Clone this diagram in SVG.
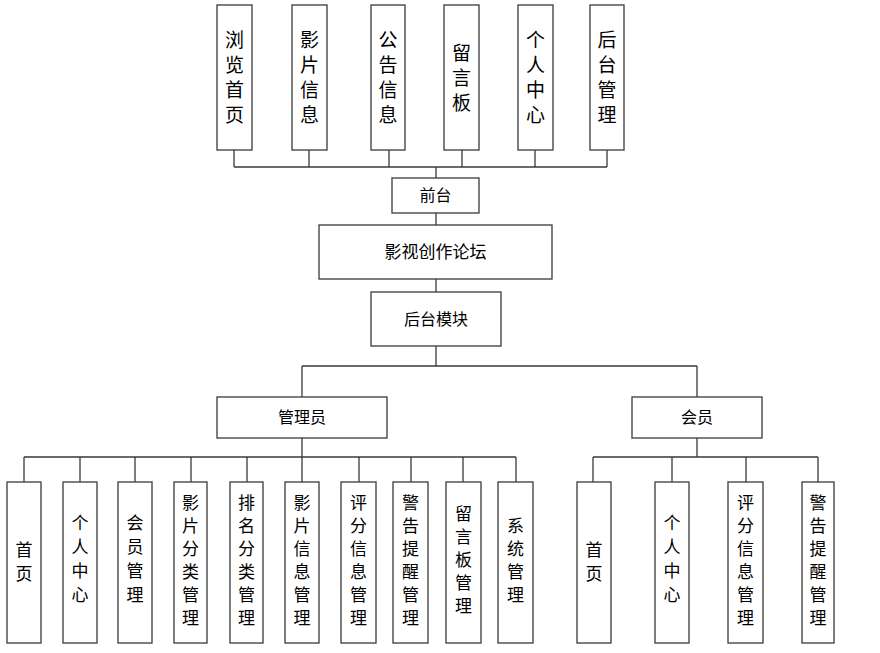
<svg xmlns="http://www.w3.org/2000/svg" width="880" height="653" viewBox="0 0 880 653">
<style>
.b{fill:#fff;stroke:#3a3a3a;stroke-width:1.3}
.c{fill:none;stroke:#3a3a3a;stroke-width:1.3}
text{font-family:"Noto Sans CJK SC","Noto Sans",sans-serif;fill:#000;text-anchor:middle}
.t{font-size:19px}
.m{font-size:16px}
.s{font-size:17px}
</style>
<rect width="880" height="653" fill="#fff"/>
<g id="connectors">
<path class="c" d="M234,150V167M309,150V167M389,150V167M462,150V167M535,150V167M607,150V167M234,167H607M436,167V178"/>
<path class="c" d="M436,213V225M436,279V292M436,346V366M302,366H697M302,366V397M697,366V397"/>
<path class="c" d="M302,438V457M24,457H516M24,457V482M80,457V482M135,457V482M191,457V482M247,457V482M302,457V482M359,457V482M411,457V482M463,457V482M516,457V482"/>
<path class="c" d="M697,438V457M593,457H818M593,457V482M672,457V482M746,457V482M818,457V482"/>
</g>
<g id="n-liulan"><rect class="b" x="217" y="5" width="35" height="145"/><text class="t" x="234.5"><tspan x="234.5" y="47">浏</tspan><tspan x="234.5" y="72">览</tspan><tspan x="234.5" y="97">首</tspan><tspan x="234.5" y="122">页</tspan></text></g>
<g id="n-yingpian"><rect class="b" x="292" y="5" width="35" height="145"/><text class="t"><tspan x="309.5" y="47">影</tspan><tspan x="309.5" y="72">片</tspan><tspan x="309.5" y="97">信</tspan><tspan x="309.5" y="122">息</tspan></text></g>
<g id="n-gonggao"><rect class="b" x="371" y="5" width="34" height="145"/><text class="t"><tspan x="388" y="47">公</tspan><tspan x="388" y="72">告</tspan><tspan x="388" y="97">信</tspan><tspan x="388" y="122">息</tspan></text></g>
<g id="n-liuyan"><rect class="b" x="444" y="5" width="35" height="145"/><text class="t"><tspan x="461.5" y="60">留</tspan><tspan x="461.5" y="85">言</tspan><tspan x="461.5" y="110">板</tspan></text></g>
<g id="n-geren"><rect class="b" x="518" y="5" width="35" height="145"/><text class="t"><tspan x="535.5" y="47">个</tspan><tspan x="535.5" y="72">人</tspan><tspan x="535.5" y="97">中</tspan><tspan x="535.5" y="122">心</tspan></text></g>
<g id="n-houtaiguanli"><rect class="b" x="590" y="5" width="34" height="145"/><text class="t"><tspan x="607" y="47">后</tspan><tspan x="607" y="72">台</tspan><tspan x="607" y="97">管</tspan><tspan x="607" y="122">理</tspan></text></g>
<g id="n-qiantai"><rect class="b" x="392" y="178" width="87" height="35"/><text class="m" x="435.5" y="201">前台</text></g>
<g id="n-luntan"><rect class="b" x="319" y="225" width="233" height="54"/><text class="s" x="435.5" y="258">影视创作论坛</text></g>
<g id="n-houtai"><rect class="b" x="371" y="292" width="130" height="54"/><text class="m" x="436" y="325">后台模块</text></g>
<g id="n-admin"><rect class="b" x="217" y="397" width="170" height="41"/><text class="m" x="302" y="423">管理员</text></g>
<g id="n-member"><rect class="b" x="632" y="397" width="130" height="41"/><text class="m" x="697" y="423">会员</text></g>
<g id="a-shouye"><rect class="b" x="7" y="482" width="34" height="161"/><text class="s"><tspan x="24" y="556">首</tspan><tspan x="24" y="580">页</tspan></text></g>
<g id="a-geren"><rect class="b" x="63" y="482" width="34" height="161"/><text class="s"><tspan x="80" y="529">个</tspan><tspan x="80" y="553">人</tspan><tspan x="80" y="577">中</tspan><tspan x="80" y="601">心</tspan></text></g>
<g id="a-huiyuan"><rect class="b" x="118" y="482" width="34" height="161"/><text class="s"><tspan x="135" y="529">会</tspan><tspan x="135" y="553">员</tspan><tspan x="135" y="577">管</tspan><tspan x="135" y="601">理</tspan></text></g>
<g id="a-ypfl"><rect class="b" x="174" y="482" width="33" height="161"/><text class="s"><tspan x="190.5" y="509">影</tspan><tspan x="190.5" y="532">片</tspan><tspan x="190.5" y="555">分</tspan><tspan x="190.5" y="578">类</tspan><tspan x="190.5" y="601">管</tspan><tspan x="190.5" y="624">理</tspan></text></g>
<g id="a-pmfl"><rect class="b" x="230" y="482" width="33" height="161"/><text class="s"><tspan x="246.5" y="509">排</tspan><tspan x="246.5" y="532">名</tspan><tspan x="246.5" y="555">分</tspan><tspan x="246.5" y="578">类</tspan><tspan x="246.5" y="601">管</tspan><tspan x="246.5" y="624">理</tspan></text></g>
<g id="a-ypxx"><rect class="b" x="285" y="482" width="34" height="161"/><text class="s"><tspan x="302" y="509">影</tspan><tspan x="302" y="532">片</tspan><tspan x="302" y="555">信</tspan><tspan x="302" y="578">息</tspan><tspan x="302" y="601">管</tspan><tspan x="302" y="624">理</tspan></text></g>
<g id="a-pfxx"><rect class="b" x="341" y="482" width="35" height="161"/><text class="s"><tspan x="358.5" y="509">评</tspan><tspan x="358.5" y="532">分</tspan><tspan x="358.5" y="555">信</tspan><tspan x="358.5" y="578">息</tspan><tspan x="358.5" y="601">管</tspan><tspan x="358.5" y="624">理</tspan></text></g>
<g id="a-jgtx"><rect class="b" x="393" y="482" width="35" height="161"/><text class="s"><tspan x="410.5" y="509">警</tspan><tspan x="410.5" y="532">告</tspan><tspan x="410.5" y="555">提</tspan><tspan x="410.5" y="578">醒</tspan><tspan x="410.5" y="601">管</tspan><tspan x="410.5" y="624">理</tspan></text></g>
<g id="a-lyb"><rect class="b" x="446" y="482" width="35" height="161"/><text class="s"><tspan x="463.5" y="520">留</tspan><tspan x="463.5" y="543">言</tspan><tspan x="463.5" y="566">板</tspan><tspan x="463.5" y="589">管</tspan><tspan x="463.5" y="612">理</tspan></text></g>
<g id="a-xtgl"><rect class="b" x="498" y="482" width="35" height="161"/><text class="s"><tspan x="515.5" y="532">系</tspan><tspan x="515.5" y="555">统</tspan><tspan x="515.5" y="578">管</tspan><tspan x="515.5" y="601">理</tspan></text></g>
<g id="m-shouye"><rect class="b" x="577" y="482" width="34" height="161"/><text class="s"><tspan x="594" y="556">首</tspan><tspan x="594" y="580">页</tspan></text></g>
<g id="m-geren"><rect class="b" x="655" y="482" width="34" height="161"/><text class="s"><tspan x="672" y="529">个</tspan><tspan x="672" y="553">人</tspan><tspan x="672" y="577">中</tspan><tspan x="672" y="601">心</tspan></text></g>
<g id="m-pfxx"><rect class="b" x="728" y="482" width="35" height="161"/><text class="s"><tspan x="745.5" y="509">评</tspan><tspan x="745.5" y="532">分</tspan><tspan x="745.5" y="555">信</tspan><tspan x="745.5" y="578">息</tspan><tspan x="745.5" y="601">管</tspan><tspan x="745.5" y="624">理</tspan></text></g>
<g id="m-jgtx"><rect class="b" x="802" y="482" width="32" height="161"/><text class="s"><tspan x="818" y="509">警</tspan><tspan x="818" y="532">告</tspan><tspan x="818" y="555">提</tspan><tspan x="818" y="578">醒</tspan><tspan x="818" y="601">管</tspan><tspan x="818" y="624">理</tspan></text></g>
</svg>
